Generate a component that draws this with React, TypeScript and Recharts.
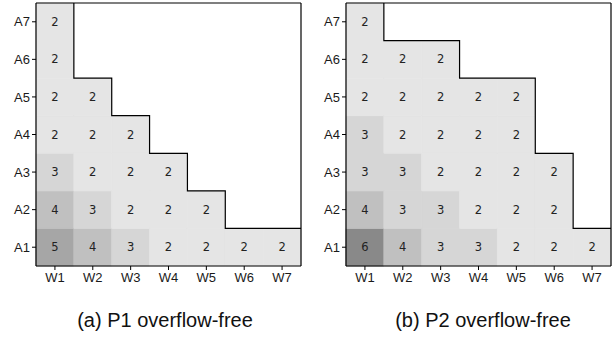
import { ComposedChart, Line, ReferenceArea, ReferenceLine, XAxis, YAxis } from "recharts";

const weeks = ["W1", "W2", "W3", "W4", "W5", "W6", "W7"];
const agents = ["A1", "A2", "A3", "A4", "A5", "A6", "A7"];

// values per week column, from A1 upward
const p1Values = [
  [5, 4, 3, 2, 2, 2, 2],
  [4, 3, 2, 2, 2],
  [3, 2, 2, 2],
  [2, 2, 2],
  [2, 2],
  [2],
  [2],
];
const p2Values = [
  [6, 4, 3, 3, 2, 2, 2],
  [4, 3, 3, 2, 2, 2],
  [3, 3, 2, 2, 2, 2],
  [3, 2, 2, 2, 2],
  [2, 2, 2, 2, 2],
  [2, 2, 2],
  [2],
];

const shades: Record<number, string> = {
  2: "#e5e5e5",
  3: "#d6d6d6",
  4: "#c0c0c0",
  5: "#a6a6a6",
  6: "#898989",
};

const ticks = weeks.map((_, i) => i + 0.5);
const tickFont = { fill: "#1a1a1a", fontSize: 13, fontFamily: "Liberation Sans, Arial, sans-serif" };

function stairs(cols: number[][]) {
  const pts: { x: number; y: number }[] = [];
  cols.forEach((col, i) => {
    const next = cols[i + 1];
    if (next && next.length !== col.length) {
      pts.push({ x: i + 1, y: col.length });
      pts.push({ x: i + 1, y: next.length });
    }
  });
  pts.push({ x: cols.length, y: cols[cols.length - 1].length });
  return pts;
}

function Panel({ cols, width, yWidth }: { cols: number[][]; width: number; yWidth: number }) {
  const line = stairs(cols);
  return <ComposedChart width={width} height={300} data={line} margin={{ top: 3, right: width - yWidth - 265, bottom: 4, left: 0 }}>
    {cols.map((col, c) => col.map((v, r) =>
      <ReferenceArea key={`${c}-${r}`} x1={c} x2={c + 1} y1={r} y2={r + 1} fill={shades[v]} fillOpacity={1}
        stroke={shades[v]} strokeWidth={0.8}
        label={{ value: v, position: "center", fontSize: 11.5, fill: "#222", fontFamily: "DejaVu Sans, sans-serif" }} />))}
    <XAxis type="number" dataKey="x" domain={[0, 7]} ticks={ticks} tickFormatter={(v: number) => weeks[Math.round(v - 0.5)]}
      allowDataOverflow tickSize={4} tickMargin={3} height={30} interval={0}
      axisLine={{ stroke: "#000", strokeWidth: 1.2 }} tickLine={{ stroke: "#000" }} tick={tickFont} />
    <YAxis type="number" domain={[0, 7]} ticks={ticks} tickFormatter={(v: number) => agents[Math.round(v - 0.5)]}
      allowDataOverflow tickSize={4} tickMargin={2} width={yWidth} interval={0}
      axisLine={{ stroke: "#000", strokeWidth: 1.2 }} tickLine={{ stroke: "#000" }} tick={tickFont} />
    <ReferenceLine y={7} stroke="#000" strokeWidth={1.2} />
    <ReferenceLine x={7} stroke="#000" strokeWidth={1.2} />
    <Line dataKey="y" type="linear" dot={false} activeDot={false} stroke="#000" strokeWidth={1.2} isAnimationActive={false} />
  </ComposedChart>;
}

const captionStyle = {
  position: "absolute" as const,
  top: 309,
  fontSize: 20,
  fontFamily: "Liberation Sans, Arial, sans-serif",
  color: "#111",
  whiteSpace: "nowrap" as const,
  transform: "translateX(-50%)",
};

export default function App() {
  return <div style={{ position: "absolute", left: 0, top: 0, width: 613, height: 339, background: "#fff" }}>
    <div style={{ position: "absolute", left: 0, top: 0 }}>
      <Panel cols={p1Values} width={305} yWidth={36} />
    </div>
    <div style={{ position: "absolute", left: 306, top: 0 }}>
      <Panel cols={p2Values} width={307} yWidth={40} />
    </div>
    <div style={{ ...captionStyle, left: 165 }}>(a) P1 overflow-free</div>
    <div style={{ ...captionStyle, left: 483 }}>(b) P2 overflow-free</div>
  </div>;
}
